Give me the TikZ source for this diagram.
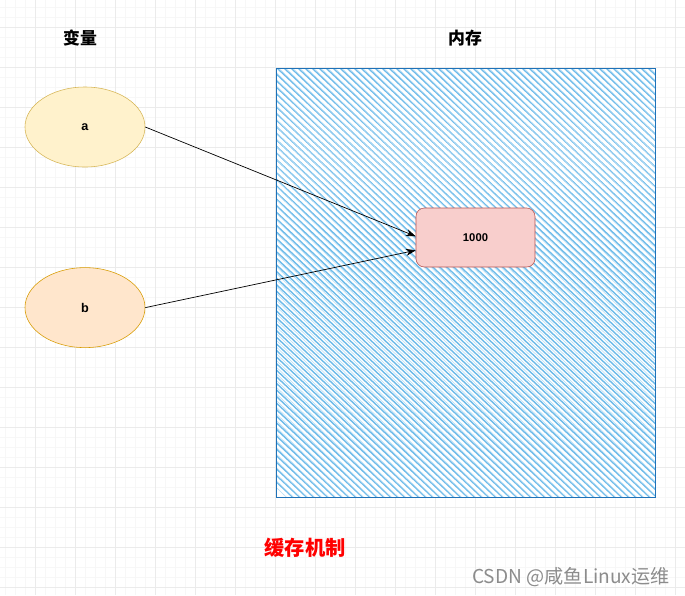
\documentclass[tikz,border=0pt]{standalone}
\usepackage{fontspec}
\setmainfont{Liberation Sans}
\newfontfamily\cjk{Noto Sans CJK SC}
\usetikzlibrary{shapes.geometric, positioning, arrows, arrows.meta}

\definecolor{gridminor}{HTML}{F7F7F7}
\definecolor{gridmajor}{HTML}{EBEBEB}
\definecolor{yellowfill}{HTML}{FFF2CC}
\definecolor{yellowline}{HTML}{D6B656}
\definecolor{orangefill}{HTML}{FFE6CC}
\definecolor{orangeline}{HTML}{D79B00}
\definecolor{redfill}{HTML}{F8CECC}
\definecolor{redline}{HTML}{B85450}
\definecolor{memline}{HTML}{1F72B8}
\definecolor{hatchblue}{HTML}{6DBBEA}

\begin{document}
\begin{tikzpicture}[x=0.025cm, y=-0.025cm]
	\tikzset{
	>={Stealth[length=7pt, width=5pt]}, % arrow heads
	node distance=2.5cm, % gap between the two variables
	var/.style={ellipse, draw, thin, minimum width=3cm, minimum height=2cm, inner sep=0pt, font=\bfseries\small},
	title/.style={font=\cjk\bfseries\large},
	value/.style={draw=redline, fill=redfill, rounded corners=6pt, minimum width=2.975cm, minimum height=1.475cm, font=\bfseries\footnotesize}
	}
	\useasboundingbox (0,0) rectangle (685,595);
	\fill[white] (0,0) rectangle (685,595);
	
	% background grid
	\foreach \x in {5,15,...,685} \draw[gridminor, line width=0.4pt] (\x,0) -- (\x,595);
	\foreach \y in {7,17,...,595} \draw[gridminor, line width=0.4pt] (0,\y) -- (685,\y);
	\foreach \x in {35,75,...,685} \draw[gridmajor, line width=0.5pt] (\x,0) -- (\x,595);
	\foreach \y in {27,67,...,595} \draw[gridmajor, line width=0.5pt] (0,\y) -- (685,\y);
	
	% memory block with hatching
	\coordinate (memtl) at (276,68);
	\coordinate (membr) at (655,497);
	\begin{scope}
	\clip (memtl) rectangle (membr);
	\fill[white] (memtl) rectangle (membr);
	\foreach \c in {-440,-433,...,380} {
		\draw[hatchblue, line width=1pt] (276+\c,68) -- ++(500,470);
		\draw[hatchblue!50, line width=0.4pt] (277.5+\c,68) -- ++(500,478);
	}
	\end{scope}
	\draw[memline, line width=0.7pt] (memtl) rectangle (membr);
	
	\node[var, draw=yellowline, fill=yellowfill] (a) at (85,127) {a};
	\node[var, draw=orangeline, fill=orangefill, below=of a] (b) {b};
	\node[value] (mem) at (475.5,237.5) {1000};
	
	\node[title] (vartitle) at (80,38) {变量};
	\node[title] (memtitle) at (465,38) {内存};
	\node[font=\cjk\bfseries\Large, text=red] (caption) at (305,548) {缓存机制};
	\node[font=\cjk\fontsize{13.6}{16}\selectfont, text=black!45] (mark) at (571,577) {CSDN @咸鱼Linux运维};
	
	\draw[->, line width=0.5pt] (a.east) -- ([yshift=0.03cm]mem.west);
	\draw[->, line width=0.5pt] (b.east) -- ([yshift=-0.32cm]mem.west);
\end{tikzpicture}
\end{document}
